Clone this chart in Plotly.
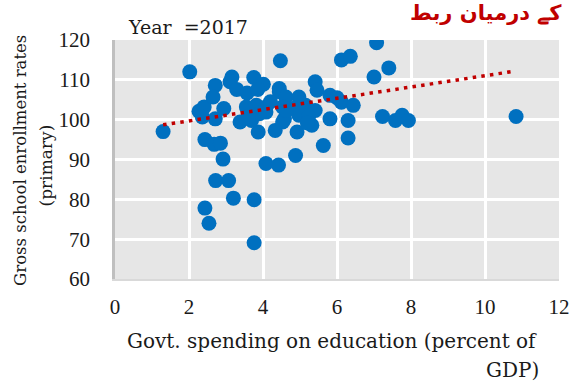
import plotly.graph_objects as go

spending = [1.3, 2.02, 2.27, 2.41, 2.36, 2.43, 2.43, 2.54, 2.68, 2.85, 2.92, 2.72, 3.07, 3.2, 3.76,
            3.76, 4.08, 4.42, 4.88, 3.87, 4.33, 4.92, 3.16, 3.11, 3.75, 4.01, 2.71, 3.29, 3.57, 3.86,
            4.44, 2.65, 2.94, 2.71, 3.55, 3.82, 4.08, 3.38, 3.69, 4.53, 4.47, 6.12, 6.36, 4.44, 4.62,
            4.97, 5.41, 5.46, 5.81, 6.12, 6.44, 4.08, 4.53, 4.8, 5.15, 5.41, 4.58, 4.97, 5.23, 5.32,
            5.81, 6.3, 5.63, 6.3, 7.0, 7.07, 7.4, 7.23, 7.58, 7.76, 7.93, 10.84, 4.62, 4.2, 5.0,
            5.2, 3.9, 3.6, 6.0]
enrollment = [97.0, 112.0, 102.1, 103.2, 100.7, 95.0, 77.8, 74.0, 93.8, 94.1, 90.1, 84.7, 84.7, 80.3, 79.9,
              69.1, 89.0, 88.6, 91.0, 96.9, 97.3, 96.9, 110.7, 109.5, 110.6, 108.9, 108.6, 107.6, 106.7, 107.6,
              107.0, 105.7, 102.8, 100.2, 103.2, 103.6, 101.9, 99.4, 99.8, 99.4, 114.8, 115.0, 115.9, 107.8, 105.7,
              105.7, 109.5, 107.4, 106.1, 104.4, 103.6, 103.2, 103.2, 102.8, 103.6, 102.3, 100.2, 101.1, 100.7, 98.6,
              100.2, 99.8, 93.5, 95.4, 110.7, 119.3, 113.0, 100.8, 99.8, 101.1, 99.8, 100.8, 102.3, 104.5, 104.3,
              99.2, 101.5, 100.9, 105.5]

# linear trend line (start and end)
trend_x = [1.3, 10.75]
trend_y = [98.7, 112.1]

x_ticks = [0, 2, 4, 6, 8, 10, 12]
y_ticks = [60, 70, 80, 90, 100, 110, 120]

FONT = "DejaVu Serif"
TICKFONT = "Liberation Serif"
L, R, T, B = 115, 14, 40, 104
W, H = 582, 383
PW, PH = W - L - R, H - T - B


def px_x(px):
    return (px - L) / PW


def px_y(py):
    return (H - B - py) / PH


fig = go.Figure()
fig.add_trace(go.Scatter(x=spending, y=enrollment, mode="markers",
                         marker=dict(size=15, color="#0070c0", line=dict(width=0)),
                         showlegend=False, hoverinfo="skip"))
fig.add_trace(go.Scatter(x=trend_x, y=trend_y, mode="lines",
                         line=dict(color="#c00000", width=3.5, dash="3.5px,5.2px"),
                         showlegend=False, hoverinfo="skip"))

fig.update_layout(
    width=W, height=H,
    margin=dict(l=L, r=R, t=T, b=B),
    paper_bgcolor="white",
    plot_bgcolor="#e6e6e6",
    font=dict(family=FONT, size=17, color="#1a1a1a"),
    xaxis=dict(range=[0, 12], tickvals=x_ticks, showgrid=True, gridcolor="white", gridwidth=2.5,
               zeroline=False, showline=True, linecolor="#d9d9d9", linewidth=2,
               ticks="", ticklabelstandoff=8, tickfont=dict(family=TICKFONT, size=21)),
    yaxis=dict(range=[60, 120], tickvals=y_ticks, showgrid=True, gridcolor="white", gridwidth=2.5,
               zeroline=False, showline=True, linecolor="#bfbfbf", linewidth=2.5,
               ticks="", ticklabelstandoff=18, tickfont=dict(family=TICKFONT, size=21)),
    annotations=[
        dict(text="Year  =2017", x=px_x(126), y=px_y(27), xref="paper", yref="paper", showarrow=False,
             xanchor="left", yanchor="middle", font=dict(family=FONT, size=19)),
        dict(text="Govt. spending on education (percent of", x=px_x(336), y=px_y(341),
             xref="paper", yref="paper", showarrow=False, xanchor="center", yanchor="middle",
             font=dict(family=FONT, size=20)),
        dict(text="GDP)", x=px_x(550), y=px_y(370), xref="paper", yref="paper", showarrow=False,
             xanchor="right", yanchor="middle", font=dict(family=FONT, size=20)),
        dict(text="Gross school enrollment rates", x=px_x(18), y=px_y(160), xref="paper", yref="paper",
             showarrow=False, textangle=-90, xanchor="center", yanchor="middle",
             font=dict(family=FONT, size=16.5)),
        dict(text="(primary)", x=px_x(45), y=px_y(165), xref="paper", yref="paper",
             showarrow=False, textangle=-90, xanchor="center", yanchor="middle",
             font=dict(family=FONT, size=17)),
        dict(text="<b>کے درمیان ربط</b>", x=px_x(573), y=px_y(13), xref="paper", yref="paper",
             showarrow=False, xanchor="right", yanchor="middle",
             font=dict(family="DejaVu Sans", size=21, color="#c00000")),
    ],
)

fig.write_html("out.html", config={"displayModeBar": False},
               post_script="document.body.style.margin='0';")
